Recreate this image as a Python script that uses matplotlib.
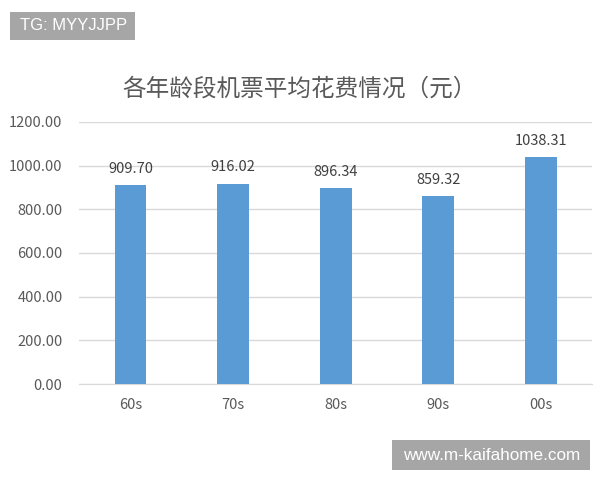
import matplotlib
matplotlib.use("Agg")
import matplotlib.pyplot as plt
from matplotlib.patches import Rectangle

plt.rcParams['font.family'] = ['Noto Sans CJK SC', 'DejaVu Sans']

# data
groups = ["60s", "70s", "80s", "90s", "00s"]
avg_cost = [909.70, 916.02, 896.34, 859.32, 1038.31]
y_ticks = [0, 200, 400, 600, 800, 1000, 1200]

title = "各年龄段机票平均花费情况（元）"
bar_color = "#5b9bd5"
text_color = "#595959"

fig = plt.figure(figsize=(6, 4.8), dpi=100)
ax = fig.add_axes([0.132, 0.2, 0.855, 0.546])

x = range(len(groups))
bars = ax.bar(x, avg_cost, width=0.31, color=bar_color, zorder=3)
for b, v in zip(bars, avg_cost):
    ax.annotate("%.2f" % v, (b.get_x() + b.get_width() / 2, v),
                xytext=(0, 7), textcoords="offset points",
                ha="center", va="bottom", fontsize=10.5, color="#404040")

ax.set_xlim(-0.5, len(groups) - 0.5)
ax.set_ylim(0, 1200)
ax.set_yticks(y_ticks)
ax.set_yticklabels(["%.2f" % t for t in y_ticks])
ax.set_xticks(list(x))
ax.set_xticklabels(groups)
ax.tick_params(axis="both", length=0, labelsize=10.5, colors=text_color)
ax.tick_params(axis="y", pad=12)
ax.tick_params(axis="x", pad=10)
ax.grid(axis="y", color="#d9d9d9", lw=1, zorder=0)
for s in ["top", "right", "left"]:
    ax.spines[s].set_visible(False)
ax.spines["bottom"].set_color("#d9d9d9")

fig.text(0.5, 0.815, title, ha="center", va="center", fontsize=17, color=text_color)

# watermark boxes
fig.patches.append(Rectangle((10 / 600, 1 - 40 / 480), 125 / 600, 28 / 480,
                             transform=fig.transFigure, fc="#a6a6a6", ec="none"))
fig.text(20 / 600, 1 - 26 / 480, "TG: MYYJJPP", ha="left", va="center",
         fontsize=12, color="white", family="Liberation Sans")
fig.patches.append(Rectangle((392 / 600, 1 - 470 / 480), 198 / 600, 30 / 480,
                             transform=fig.transFigure, fc="#a6a6a6", ec="none"))
fig.text(492 / 600, 1 - 455 / 480, "www.m-kaifahome.com", ha="center", va="center",
         fontsize=12.3, color="white", family="Liberation Sans")

fig.savefig("out.png", dpi=100)
